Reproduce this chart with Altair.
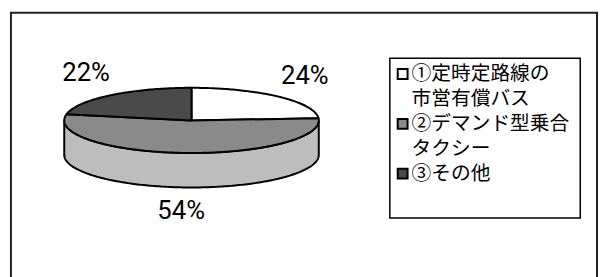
import math
import altair as alt
import pandas as pd

# ---- data ----
categories = ["①定時定路線の\n市営有償バス", "②デマンド型乗合\nタクシー", "③その他"]
values = [24, 54, 22]
labels = ["24%", "54%", "22%"]
top_colors = ["#ffffff", "#8a8a8a", "#4a4a4a"]
side_colors = ["#ffffff", "#bdbdbd", "#6e6e6e"]

# ---- pie geometry (unit radius, squashed for the 3D look) ----
RY = 0.256
DEPTH = 0.271
total = float(sum(values))

top_rows, side_rows, label_rows = [], [], []
start = 0.0
for i, v in enumerate(values):
    a0 = 2 * math.pi * start / total
    a1 = 2 * math.pi * (start + v) / total
    n = max(4, int(math.degrees(a1 - a0)))
    k = 0
    top_rows.append({"s": i, "o": k, "x": 0.0, "y": 0.0, "c": top_colors[i]}); k += 1
    for j in range(n + 1):
        t = a0 + (a1 - a0) * j / n
        top_rows.append({"s": i, "o": k, "x": math.sin(t), "y": RY * math.cos(t), "c": top_colors[i]}); k += 1
    top_rows.append({"s": i, "o": k, "x": 0.0, "y": 0.0, "c": top_colors[i]})
    lo, hi = max(a0, math.pi / 2), min(a1, 3 * math.pi / 2)
    if hi > lo:
        m = max(4, int(math.degrees(hi - lo)))
        for j in range(m + 1):
            t = lo + (hi - lo) * j / m
            yt = RY * math.cos(t)
            side_rows.append({"s": i, "x": math.sin(t), "y": yt, "y2": yt - DEPTH, "c": side_colors[i]})
    mid = (a0 + a1) / 2
    label_rows.append({"x": 1.3 * math.sin(mid), "y": 0.615 * math.cos(mid) - 0.1, "t": labels[i]})
    start += v

top_df = pd.DataFrame(top_rows)
side_df = pd.DataFrame(side_rows)
lab_df = pd.DataFrame(label_rows)

leg_rows = []
line = 0
for i, cat in enumerate(categories):
    leg_rows.append({"line": line, "c": top_colors[i], "t": cat})
    line += len(cat.split("\n"))
leg_df = pd.DataFrame(leg_rows)

W, H = 594, 280
xs = alt.Scale(domain=[-1.4186, 3.186])
ys = alt.Scale(domain=[-1.3256, 0.845])
X = alt.X("x:Q", scale=xs, axis=None)
Y = alt.Y("y:Q", scale=ys, axis=None)

side = alt.Chart(side_df).mark_area(stroke="black", strokeWidth=2).encode(
    x=X, y=Y, y2="y2:Q", fill=alt.Fill("c:N", scale=None), detail="s:N"
)
top = alt.Chart(top_df).mark_line(stroke="black", strokeWidth=2, strokeJoin="round").encode(
    x=X, y=Y, fill=alt.Fill("c:N", scale=None), order="o:Q", detail="s:N"
)
pct = alt.Chart(lab_df).mark_text(
    font="Roboto", fontSize=26, color="black", baseline="middle", align="center"
).encode(x=X, y=Y, text="t:N")

box = alt.Chart(pd.DataFrame({"a": [0]})).mark_rect(
    fill="white", stroke="black", strokeWidth=1.5
).encode(x=alt.value(384), x2=alt.value(577), y=alt.value(46), y2=alt.value(208))

FS = 20
PITCH = 25.25
LY = alt.Y("line:Q", scale=alt.Scale(domain=[0, 4], range=[62, 163]), axis=None)
LYT = alt.Y("line:Q", scale=alt.Scale(domain=[0, 4], range=[62 - 0.49 * FS, 163 - 0.49 * FS]), axis=None)
sym = alt.Chart(leg_df).mark_square(size=100, stroke="black", strokeWidth=2, opacity=1).encode(
    x=alt.value(397), y=LY, fill=alt.Fill("c:N", scale=None)
)
txt = alt.Chart(leg_df).mark_text(
    font="Liberation Sans, Noto Sans CJK JP", fontSize=FS, align="left", baseline="top", color="black",
    lineBreak="\n", lineHeight=PITCH
).encode(x=alt.value(406), y=LYT, text="t:N")

chart = alt.layer(side, top, pct, box, sym, txt).resolve_scale(
    x="independent", y="independent"
).properties(
    width=W, height=H,
    autosize=alt.AutoSizeParams(type="none"),
    padding={"left": 3, "top": 3, "right": 1, "bottom": 0},
).configure_view(stroke="#222222", strokeWidth=2)

chart.save("out.html", embed_options={"renderer": "svg", "actions": False})
